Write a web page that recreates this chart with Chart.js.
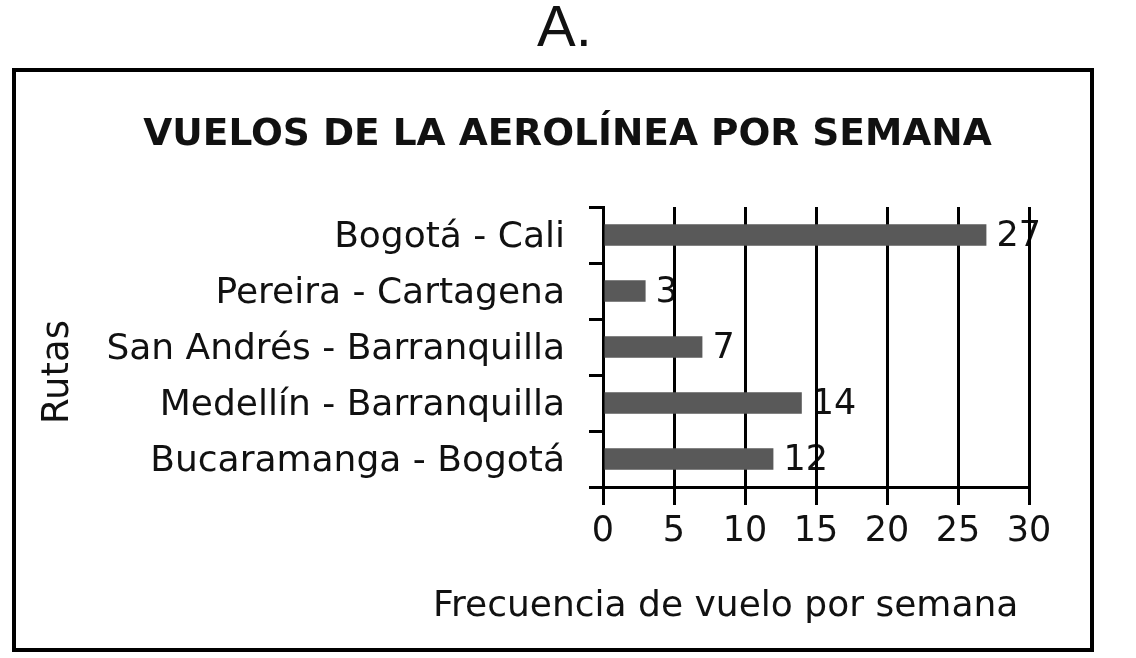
<!DOCTYPE html>
<html>
<head>
<meta charset="utf-8">
<script src="https://cdn.jsdelivr.net/npm/chart.js@4.4.0/dist/chart.umd.min.js"></script>
<style>
  body { margin: 0; background: #fff; width: 1136px; height: 658px; position: relative; overflow: hidden; }
  #letter { position: absolute; left: 537px; top: -6px; font: 58px "Liberation Sans", Arial, sans-serif; color: #111; line-height: 1.117; }
  #frame { position: absolute; left: 12px; top: 68px; width: 1082px; height: 584px; box-sizing: border-box; border: 4px solid #000; }
  canvas { display: block; }
</style>
</head>
<body>
<div id="letter">A.</div>
<div id="frame"><canvas id="chart" width="1074" height="576"></canvas></div>
<script>
const routes = ['Bogotá - Cali', 'Pereira - Cartagena', 'San Andrés - Barranquilla', 'Medellín - Barranquilla', 'Bucaramanga - Bogotá'];
const flights = [27, 3, 7, 14, 12];
const xTicks = [0, 5, 10, 15, 20, 25, 30];

const textColor = '#111';
const family = '"DejaVu Sans", Verdana, sans-serif';

// value labels go under the grid lines, like in the original
const valueLabels = {
    id: 'valueLabels',
    beforeDraw(chart) {
        const ctx = chart.ctx;
        const meta = chart.getDatasetMeta(0);
        ctx.save();
        ctx.font = '35px ' + family;
        ctx.fillStyle = textColor;
        ctx.textBaseline = 'middle';
        meta.data.forEach((bar, i) => {
            ctx.fillText(String(flights[i]), bar.x + 10, bar.y + 2);
        });
        ctx.restore();
    }
};

// axis titles are not centred on their axes in the original
const axisTitles = {
    id: 'axisTitles',
    afterDraw(chart) {
        const ctx = chart.ctx;
        ctx.save();
        ctx.fillStyle = textColor;
        ctx.font = '36px ' + family;
        ctx.textAlign = 'left';
        ctx.textBaseline = 'alphabetic';
        ctx.fillText('Frecuencia de vuelo por semana', 417, 544);

        ctx.translate(42, 300);
        ctx.rotate(-Math.PI / 2);
        ctx.font = '37px ' + family;
        ctx.textAlign = 'center';
        ctx.textBaseline = 'middle';
        ctx.fillText('Rutas', 0, 0);
        ctx.restore();
    }
};

new Chart(document.getElementById('chart'), {
    type: 'bar',
    data: {
        labels: routes,
        datasets: [{
            data: flights,
            backgroundColor: '#595959',
            borderWidth: 0,
            barPercentage: 0.38,
            categoryPercentage: 1
        }]
    },
    options: {
        indexAxis: 'y',
        responsive: false,
        animation: false,
        layout: { padding: { left: 90, right: 61, top: 0, bottom: 0 } },
        plugins: {
            legend: { display: false },
            tooltip: { enabled: false },
            title: {
                display: true,
                text: 'VUELOS DE LA AEROLÍNEA POR SEMANA',
                color: textColor,
                font: { family: family, size: 37.5, weight: 'bold' },
                padding: { top: 41, bottom: 49 }
            }
        },
        scales: {
            x: {
                min: 0,
                max: 30,
                afterBuildTicks: axis => { axis.ticks = xTicks.map(v => ({ value: v })); },
                grid: { color: '#000', lineWidth: 3, tickLength: 18 },
                border: { color: '#000', width: 3 },
                ticks: { color: textColor, font: { family: family, size: 35 }, padding: 6 },
                afterFit: s => { s.height = 161; }
            },
            y: {
                grid: { color: '#000', lineWidth: 3, tickLength: 14, drawOnChartArea: false },
                border: { color: '#000', width: 3 },
                ticks: { color: textColor, font: { family: family, size: 36 }, padding: 24, labelOffset: 3 },
                afterFit: s => { s.width = 497; }
            }
        }
    },
    plugins: [valueLabels, axisTitles]
});
</script>
</body>
</html>
